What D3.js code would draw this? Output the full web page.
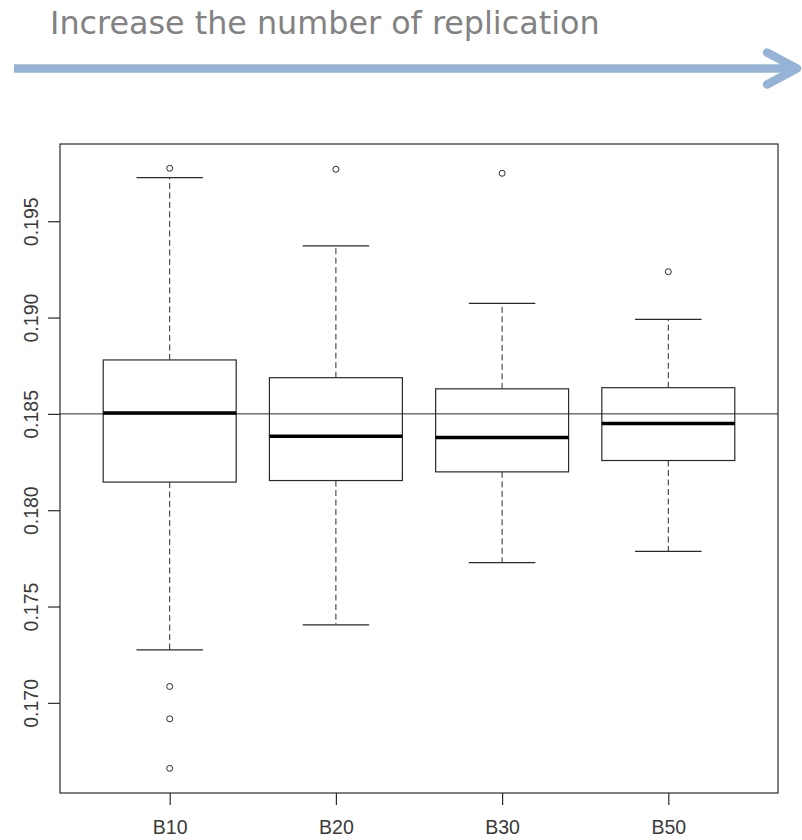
<!DOCTYPE html>
<html>
<head>
<meta charset="utf-8">
<script src="https://cdn.jsdelivr.net/npm/d3@7"></script>
<style>
  body { margin: 0; background: #fff; }
  svg { display: block; }
</style>
</head>
<body>
<div id="chart"></div>
<script>
// values
const groups = ["B10", "B20", "B30", "B50"];
const lowerWhisker = [0.17275, 0.17405, 0.17728, 0.17786];
const q1 = [0.18146, 0.18154, 0.18199, 0.18258];
const medians = [0.18504, 0.18384, 0.18377, 0.18450];
const q3 = [0.18780, 0.18688, 0.18630, 0.18636];
const upperWhisker = [0.19726, 0.19372, 0.19074, 0.18991];
const outliers = [
  [0.19775, 0.17085, 0.16917, 0.16660],
  [0.19770],
  [0.19749],
  [0.19238]
];
const refLine = 0.185;
const yTicks = [0.170, 0.175, 0.180, 0.185, 0.190, 0.195];
const title = "Increase the number of replication";

const width = 802, height = 840;
const plot = {left: 60, right: 778, top: 144, bottom: 793};

const svg = d3.select("#chart").append("svg")
  .attr("width", width)
  .attr("height", height);

// title + arrow
svg.append("text")
  .attr("x", 50)
  .attr("y", 34)
  .attr("font-family", "DejaVu Sans")
  .attr("font-size", "31.8px")
  .attr("fill", "#828282")
  .text(title);

const arrowColor = "#95b3d7";
svg.append("line")
  .attr("x1", 14).attr("x2", 792)
  .attr("y1", 68.5).attr("y2", 68.5)
  .attr("stroke", arrowColor)
  .attr("stroke-width", 8.5);
svg.append("path")
  .attr("d", "M767,52.5 L797,68.5 L767,84.5")
  .attr("fill", "none")
  .attr("stroke", arrowColor)
  .attr("stroke-width", 8.5)
  .attr("stroke-linecap", "round")
  .attr("stroke-linejoin", "round");

// scales (R style: groups at 1..n, 4% padding)
const x = d3.scaleLinear().domain([0.34, 4.66]).range([plot.left, plot.right]);
const y = d3.scaleLinear().domain([0.16532, 0.19901]).range([plot.bottom, plot.top]);

const boxHalf = (x(1.4) - x(1)) ;
const capHalf = (x(1.2) - x(1));
const ink = "#2a2a2a";
const textInk = "#3a3a3a";

const g = svg.append("g");

groups.forEach((name, i) => {
  const cx = x(i + 1);
  // whiskers
  g.append("line")
    .attr("x1", cx).attr("x2", cx)
    .attr("y1", y(q3[i])).attr("y2", y(upperWhisker[i]))
    .attr("stroke", ink).attr("stroke-dasharray", "6,3.5");
  g.append("line")
    .attr("x1", cx).attr("x2", cx)
    .attr("y1", y(q1[i])).attr("y2", y(lowerWhisker[i]))
    .attr("stroke", ink).attr("stroke-dasharray", "6,3.5");
  // caps
  [upperWhisker[i], lowerWhisker[i]].forEach(v => {
    g.append("line")
      .attr("x1", cx - capHalf).attr("x2", cx + capHalf)
      .attr("y1", y(v)).attr("y2", y(v))
      .attr("stroke", ink).attr("stroke-width", 1.2);
  });
  // box
  g.append("rect")
    .attr("x", cx - boxHalf)
    .attr("y", y(q3[i]))
    .attr("width", boxHalf * 2)
    .attr("height", y(q1[i]) - y(q3[i]))
    .attr("fill", "#fff")
    .attr("stroke", ink)
    .attr("stroke-width", 1.2);
  // outliers
  g.selectAll(null).data(outliers[i]).enter()
    .append("circle")
    .attr("cx", cx)
    .attr("cy", d => y(d))
    .attr("r", 3)
    .attr("fill", "none")
    .attr("stroke", ink)
    .attr("stroke-width", 1);
});

// reference line at 0.185
g.append("line")
  .attr("x1", plot.left).attr("x2", plot.right)
  .attr("y1", y(refLine)).attr("y2", y(refLine))
  .attr("stroke", ink).attr("stroke-width", 1);

// medians on top
groups.forEach((name, i) => {
  const cx = x(i + 1);
  g.append("line")
    .attr("x1", cx - boxHalf).attr("x2", cx + boxHalf)
    .attr("y1", y(medians[i])).attr("y2", y(medians[i]))
    .attr("stroke", "#000").attr("stroke-width", 3.5);
});

// frame
svg.append("rect")
  .attr("x", plot.left).attr("y", plot.top)
  .attr("width", plot.right - plot.left)
  .attr("height", plot.bottom - plot.top)
  .attr("fill", "none")
  .attr("stroke", ink)
  .attr("stroke-width", 1.2);

// y axis
const yAxis = svg.append("g")
  .attr("transform", `translate(${plot.left},0)`)
  .call(d3.axisLeft(y).tickValues(yTicks).tickSize(12).tickFormat(d3.format(".3f")));
yAxis.select(".domain").remove();
yAxis.selectAll(".tick line").attr("stroke", ink).attr("stroke-width", 1.2);
yAxis.selectAll(".tick text")
  .attr("transform", "rotate(-90)")
  .attr("x", 0)
  .attr("y", -22.5)
  .attr("dy", 0)
  .attr("text-anchor", "middle")
  .attr("font-family", "Liberation Sans, Arial, sans-serif")
  .attr("font-size", "19.5px")
  .attr("fill", textInk);

// x axis
const xAxis = svg.append("g")
  .attr("transform", `translate(0,${plot.bottom})`)
  .call(d3.axisBottom(x).tickValues([1, 2, 3, 4]).tickSize(12).tickFormat((d, i) => groups[i]));
xAxis.select(".domain").remove();
xAxis.selectAll(".tick line").attr("stroke", ink).attr("stroke-width", 1.2);
xAxis.selectAll(".tick text")
  .attr("y", 41)
  .attr("dy", 0)
  .attr("font-family", "Liberation Sans, Arial, sans-serif")
  .attr("font-size", "19.5px")
  .attr("fill", textInk);
</script>
</body>
</html>
